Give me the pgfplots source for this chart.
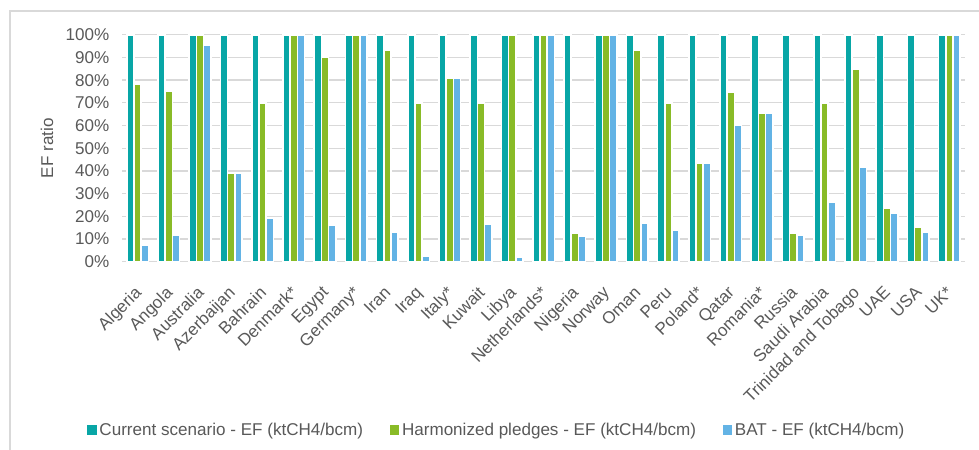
\documentclass[border=0pt]{standalone}
\usepackage{fontspec}
\setmainfont{Liberation Sans}
\usepackage{pgfplots}
\usepackage{pgfplotstable}
\pgfplotsset{compat=1.18}

\definecolor{curteal}{RGB}{8,166,166}
\definecolor{hpgreen}{RGB}{137,187,39}
\definecolor{batblue}{RGB}{99,179,229}
\definecolor{gridgray}{RGB}{217,217,217}
\definecolor{txtgray}{RGB}{89,89,89}

% x  current  harmonized  bat
\pgfplotstableread{
x cur harm bat
0  100 78  7.5
1  100 75  11.5
2  100 100 95.5
3  100 39  39
4  100 70  19
5  100 100 100
6  100 90  16
7  100 100 100
8  100 93  13
9  100 70  2.5
10 100 81  81
11 100 70  16.5
12 100 100 2
13 100 100 100
14 100 12.6 11.3
15 100 100 100
16 100 93  16.9
17 100 70  13.7
18 100 43.3 43.3
19 100 74.8 60.2
20 100 65.3 65.3
21 100 12.6 11.7
22 100 70  26.4
23 100 84.9 41.5
24 100 23.6 21.4
25 100 15  13.2
26 100 100 100
}\efdata

\begin{document}
\begin{tikzpicture}
\useasboundingbox (0,0) rectangle (734.25pt,337.5pt);
\draw[gridgray, line width=0.9pt] (7.5pt,0) -- (7.5pt,329.25pt) -- (734.25pt,329.25pt);
\begin{axis}[
    at={(91.5pt,141.2pt)}, anchor=south west,
    scale only axis,
    width=632.25pt, height=170.25pt,
    ybar=0pt, bar width=5.4pt,
    xmin=-0.5, xmax=26.5,
    ymin=0, ymax=100,
    clip=false,
    axis line style={draw=none},
    major tick length=0pt,
    ymajorgrids,
    y grid style={gridgray, line width=1pt},
    ytick={0,10,...,100},
    yticklabels={0\%,10\%,20\%,30\%,40\%,50\%,60\%,70\%,80\%,90\%,100\%},
    xtick=data,
    xticklabels={Algeria,Angola,Australia,Azerbaijan,Bahrain,Denmark*,Egypt,Germany*,Iran,Iraq,Italy*,Kuwait,Libya,Netherlands*,Nigeria,Norway,Oman,Peru,Poland*,Qatar,Romania*,Russia,Saudi Arabia,Trinidad and Tobago,UAE,USA,UK*},
    tick label style={font=\fontsize{12.8}{15}\selectfont, text=txtgray},
    yticklabel style={xshift=-6pt},
    xticklabel style={xshift=-3pt, yshift=-16pt, rotate=45, anchor=north east, inner sep=1pt},
    ylabel={EF ratio},
    ylabel style={at={(axis description cs:-0.089,0.5)}, anchor=center, font=\fontsize{12.8}{15}\selectfont, text=txtgray},
    legend columns=3,
    legend style={at={(0.445,-0.741)}, anchor=center, draw=none,
        font=\fontsize{12.8}{15}\selectfont, text=txtgray,
        /tikz/every even column/.append style={column sep=18pt}},
    legend image code/.code={\fill[#1, draw=none] (0pt,-3.6pt) rectangle (7.2pt,3.6pt);},
    every axis plot/.append style={draw=white, line width=1.2pt},
]
\addplot[fill=curteal] table[x=x, y=cur] {\efdata};
\addplot[fill=hpgreen] table[x=x, y=harm] {\efdata};
\addplot[fill=batblue] table[x=x, y=bat] {\efdata};
\legend{Current scenario - EF (ktCH4/bcm),Harmonized pledges - EF (ktCH4/bcm),BAT - EF (ktCH4/bcm)}
\end{axis}
\end{tikzpicture}
\end{document}
